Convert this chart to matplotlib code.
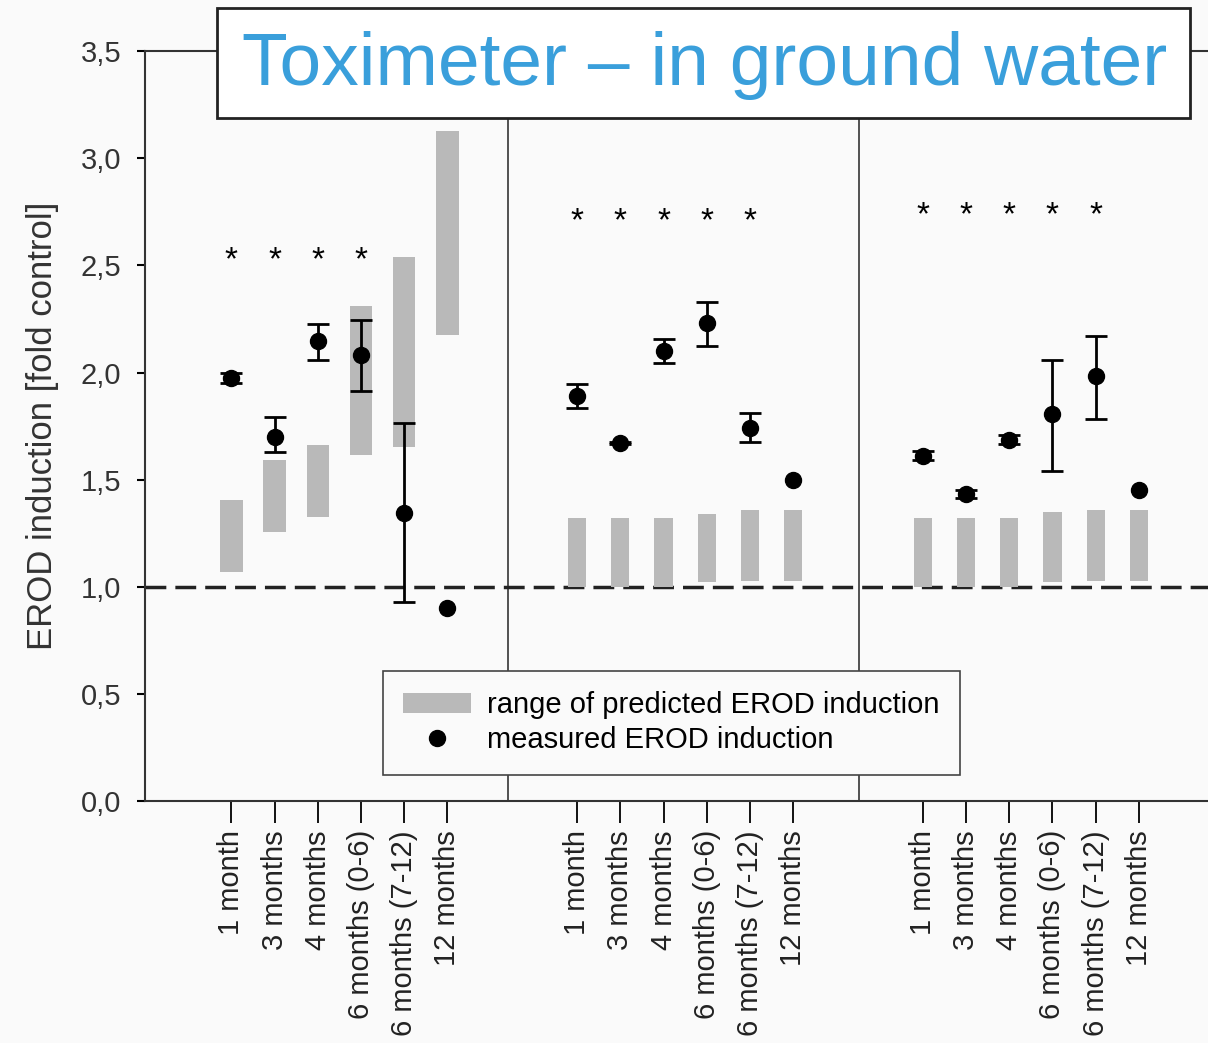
import numpy as np
import matplotlib.pyplot as plt
from matplotlib.patches import Rectangle, Patch
from matplotlib.lines import Line2D

plt.rcParams['font.family'] = ['Liberation Sans', 'DejaVu Sans']

# Kategorien (gleich in allen drei Gruppen)
categories = ["1 month", "3 months", "4 months", "6 months (0-6)", "6 months (7-12)", "12 months"]

# Bereich der vorhergesagten EROD-Induktion (unten / oben), je Gruppe
pred_low_1 = [1.07, 1.255, 1.325, 1.615, 1.65, 2.175]
pred_high_1 = [1.405, 1.59, 1.66, 2.31, 2.54, 3.125]
pred_low_2 = [1.0, 1.0, 1.0, 1.02, 1.027, 1.027]
pred_high_2 = [1.32, 1.32, 1.32, 1.34, 1.358, 1.358]
pred_low_3 = [1.0, 1.0, 1.0, 1.02, 1.027, 1.027]
pred_high_3 = [1.32, 1.32, 1.32, 1.35, 1.36, 1.36]

# gemessene EROD-Induktion mit Fehlerbalken (0 = kein Balken)
meas_1 = [1.975, 1.70, 2.147, 2.083, 1.345, 0.90]
err_lo_1 = [0.025, 0.07, 0.087, 0.17, 0.415, 0]
err_hi_1 = [0.025, 0.09, 0.078, 0.164, 0.42, 0]
meas_2 = [1.892, 1.669, 2.10, 2.229, 1.743, 1.50]
err_lo_2 = [0.056, 0.005, 0.055, 0.106, 0.068, 0]
err_hi_2 = [0.052, 0.005, 0.057, 0.10, 0.069, 0]
meas_3 = [1.612, 1.432, 1.687, 1.804, 1.985, 1.45]
err_lo_3 = [0.02, 0.02, 0.02, 0.266, 0.20, 0]
err_hi_3 = [0.02, 0.02, 0.02, 0.254, 0.187, 0]

# Signifikanz-Sterne: Kategorie-Indizes und Höhe je Gruppe
stars_1 = [0, 1, 2, 3]
stars_2 = [0, 1, 2, 3, 4]
stars_3 = [0, 1, 2, 3, 4]
star_y = [2.52, 2.705, 2.73]

groups = [
    (pred_low_1, pred_high_1, meas_1, err_lo_1, err_hi_1, stars_1, 0.52),
    (pred_low_2, pred_high_2, meas_2, err_lo_2, err_hi_2, stars_2, 0.42),
    (pred_low_3, pred_high_3, meas_3, err_lo_3, err_hi_3, stars_3, 0.42),
]

fig = plt.figure(figsize=(12.08, 10.43), dpi=100, facecolor='#fafafa')
ax = fig.add_axes([0.12, 0.232, 0.88, 0.719])
ax.set_facecolor('#fafafa')

bar_col = '#b9b9b9'
tick_pos = []
tick_lab = []
for g, (lo, hi, m, elo, ehi, st, w) in enumerate(groups):
    x = np.arange(len(categories)) + g * 8
    lo = np.array(lo)
    hi = np.array(hi)
    ax.bar(x, hi - lo, bottom=lo, width=w, color=bar_col, zorder=2)
    m = np.array(m)
    elo = np.array(elo)
    ehi = np.array(ehi)
    has = (elo > 0) | (ehi > 0)
    ax.errorbar(x[has], m[has], yerr=[elo[has], ehi[has]], fmt='none', ecolor='black',
                elinewidth=2, capsize=8, capthick=2, zorder=3)
    ax.plot(x, m, 'o', color='black', markersize=11.5, zorder=4)
    for i in st:
        ax.text(x[i], star_y[g], '*', ha='center', va='center', fontsize=24, zorder=4)
    tick_pos += list(x)
    tick_lab += categories

# Trennlinien zwischen den Gruppen
for sx in [6.4, 14.53]:
    ax.axvline(sx, color='#444444', lw=1.3, zorder=1)

ax.axhline(1.0, color='#222222', lw=2.5, ls=(0, (6, 2.6)), zorder=1.5)

ax.set_xlim(-2, 22.6)
ax.set_ylim(0, 3.5)
ax.set_yticks(np.arange(0, 3.51, 0.5))
ax.set_yticklabels([f"{v:.1f}".replace('.', ',') for v in np.arange(0, 3.51, 0.5)])
ax.set_xticks(tick_pos)
ax.set_xticklabels(tick_lab, rotation=90, va='top', ha='center')
ax.tick_params(axis='y', labelsize=21, labelcolor='#333333', length=6, width=1.5, pad=11)
ax.tick_params(axis='x', labelsize=21, labelcolor='#222222', length=16, width=1.3, pad=5)
ax.spines['right'].set_visible(False)
for s in ['left', 'bottom', 'top']:
    ax.spines[s].set_linewidth(1.5)
    ax.spines[s].set_color('#333333')
ax.set_ylabel('EROD induction [fold control]', fontsize=25, color='#333333', labelpad=16)

handles = [Patch(facecolor=bar_col, edgecolor='none'),
           Line2D([], [], marker='o', color='black', ls='none', markersize=11.5)]
leg = ax.legend(handles, ['range of predicted EROD induction', 'measured EROD induction'],
                loc='upper left', bbox_to_anchor=(0.224, 0.174), borderaxespad=0, fontsize=21,
                frameon=True, fancybox=False, edgecolor='#444444', facecolor='#fafafa',
                framealpha=1, handlelength=2.3, handleheight=0.7, handletextpad=0.55,
                borderpad=0.7, labelspacing=0.25)
leg.get_frame().set_linewidth(1.2)

# Titelkasten oben
fig.patches.append(Rectangle((217 / 1208, 1 - 118 / 1043), (1190 - 217) / 1208, 110 / 1043,
                             transform=fig.transFigure, facecolor='white', edgecolor='#222222',
                             lw=2, zorder=10))
fig.text(705 / 1208, 1 - 66 / 1043, 'Toximeter – in ground water', ha='center', va='center',
         fontsize=54, color='#3a9fdb', zorder=11)

fig.savefig('out.png', dpi=100, facecolor=fig.get_facecolor())
